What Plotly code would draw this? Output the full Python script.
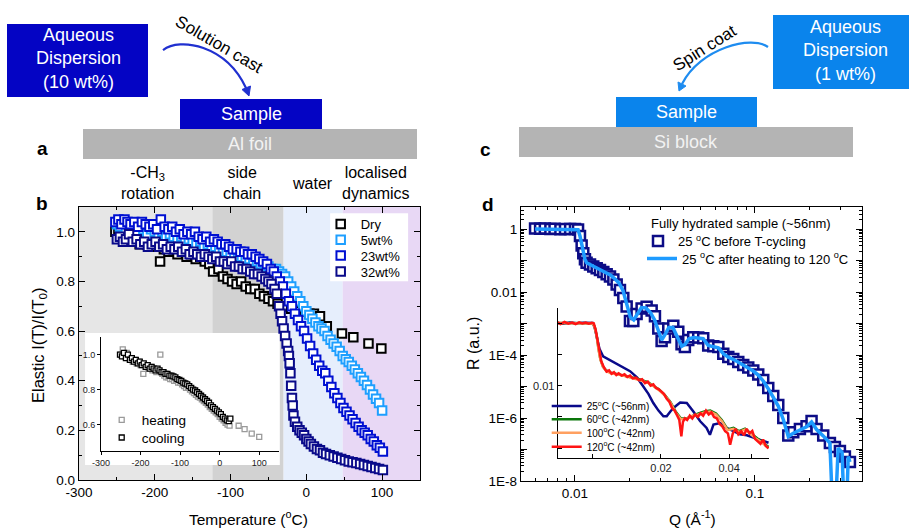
import plotly.graph_objects as go

# ---------------- panel b : elastic intensity vs temperature ----------------
dry_t = [-252, -248, -244, -240, -236, -232, -228, -224, -220, -215, -210, -205, -200, -193, -188,
         -182, -176, -170, -164, -158, -152, -146, -140, -134, -128, -123, -116, -110, -104, -98,
         -92, -86, -80, -74, -68, -62, -56, -50, -44, -38, -32, -26, -20, -14, -8,
         -2, 4, 10, 18, 27, 47, 62, 82, 99]
dry_v = [1.00, 0.99, 0.98, 0.99, 0.97, 0.98, 0.96, 0.97, 0.95, 0.96, 0.95, 0.94, 0.95, 0.88, 0.93,
         0.92, 0.93, 0.91, 0.92, 0.90, 0.91, 0.89, 0.90, 0.88, 0.87, 0.84, 0.85, 0.82, 0.81, 0.80,
         0.79, 0.80, 0.78, 0.77, 0.77, 0.75, 0.74, 0.73, 0.72, 0.71, 0.70, 0.70, 0.69, 0.69, 0.68,
         0.68, 0.67, 0.67, 0.66, 0.62, 0.59, 0.575, 0.55, 0.53]

w5_t = [-250, -246, -242, -238, -234, -230, -225, -220, -215, -210, -205, -200, -195, -190, -185,
        -180, -175, -170, -165, -160, -155, -150, -145, -140, -135, -130, -125, -120, -115, -110,
        -105, -100, -95, -90, -85, -80, -75, -70, -65, -60, -55, -50, -45, -40, -36,
        -32, -28, -24, -20, -16, -12, -8, -4, 0, 4, 8, 12, 16, 20, 24,
        28, 32, 36, 40, 44, 48, 52, 56, 60, 64, 68, 72, 76, 80, 84, 88, 92, 96, 100]
w5_v = [1.03, 1.02, 1.04, 1.01, 1.03, 1.02, 1.00, 1.02, 1.01, 0.99, 1.01, 1.00, 0.99, 1.00, 0.98,
        0.99, 0.98, 0.97, 0.98, 0.96, 0.97, 0.96, 0.95, 0.96, 0.94, 0.95, 0.93, 0.94, 0.93, 0.92,
        0.92, 0.91, 0.91, 0.90, 0.90, 0.89, 0.89, 0.88, 0.88, 0.87, 0.87, 0.86, 0.85, 0.85, 0.84,
        0.83, 0.82, 0.80, 0.78, 0.76, 0.74, 0.72, 0.70, 0.68, 0.665, 0.65, 0.635, 0.62, 0.61, 0.60,
        0.58, 0.565, 0.55, 0.537, 0.52, 0.50, 0.487, 0.475, 0.46, 0.445, 0.43, 0.415, 0.40, 0.383,
        0.365, 0.345, 0.327, 0.31, 0.28]

w23_t = [-252, -248, -244, -240, -236, -232, -227, -222, -217, -212, -207, -202, -197, -192, -187,
         -182, -177, -172, -167, -162, -157, -152, -147, -142, -137, -132, -127, -122, -117, -112,
         -107, -102, -97, -92, -87, -82, -77, -72, -67, -62, -57, -52, -47, -43, -39,
         -35, -31, -27, -23, -19, -15, -11, -7, -3, 1, 5, 9, 13, 17, 21,
         25, 29, 33, 37, 41, 45, 49, 53, 57, 61, 65, 69, 73, 77, 81, 85, 89, 93, 97, 101]
w23_v = [1.04, 1.05, 1.03, 1.05, 1.04, 1.03, 1.04, 1.02, 1.04, 1.03, 1.02, 1.03, 1.01, 1.05, 1.02,
         1.01, 1.02, 1.00, 1.01, 0.99, 1.00, 0.99, 1.00, 0.98, 0.97, 0.98, 0.96, 0.97, 0.96, 0.95,
         0.95, 0.94, 0.93, 0.93, 0.92, 0.92, 0.91, 0.91, 0.90, 0.89, 0.88, 0.87, 0.85, 0.84, 0.82,
         0.80, 0.78, 0.75, 0.72, 0.70, 0.67, 0.645, 0.62, 0.60, 0.57, 0.54, 0.51, 0.485, 0.46, 0.44,
         0.43, 0.40, 0.375, 0.35, 0.33, 0.31, 0.29, 0.275, 0.26, 0.245, 0.23, 0.215, 0.20, 0.19,
         0.18, 0.165, 0.155, 0.14, 0.13, 0.115]

w32_t = [-250, -246, -242, -238, -234, -229, -224, -219, -214, -209, -204, -199, -194, -189, -184,
         -179, -174, -169, -164, -159, -154, -149, -144, -139, -134, -129, -124, -119, -114, -109,
         -104, -99, -94, -89, -84, -79, -74, -69, -64, -59, -54, -50, -46, -42, -39,
         -36, -34, -32, -30, -28, -26, -24, -23, -22, -21, -20, -19, -18, -17, -15,
         -12, -9, -6, -3, 0, 3, 6, 10, 14, 18, 22, 26, 31, 36, 41,
         46, 51, 56, 61, 66, 71, 76, 81, 86, 91, 96, 101]
w32_v = [0.97, 0.98, 0.96, 0.97, 0.99, 0.96, 0.97, 0.95, 0.96, 0.94, 0.95, 0.96, 0.94, 0.95, 0.93,
         0.94, 0.93, 0.94, 0.92, 0.93, 0.91, 0.92, 0.91, 0.90, 0.91, 0.90, 0.89, 0.90, 0.88, 0.88,
         0.87, 0.88, 0.86, 0.86, 0.85, 0.85, 0.84, 0.83, 0.83, 0.82, 0.81, 0.80, 0.79, 0.77, 0.75,
         0.70, 0.67, 0.64, 0.61, 0.58, 0.55, 0.52, 0.50, 0.47, 0.43, 0.38, 0.33, 0.30, 0.26, 0.235,
         0.215, 0.20, 0.19, 0.18, 0.165, 0.155, 0.145, 0.135, 0.125, 0.12, 0.11, 0.105, 0.10, 0.095,
         0.09, 0.085, 0.08, 0.075, 0.072, 0.068, 0.064, 0.06, 0.056, 0.052, 0.048, 0.044, 0.04]

# inset of panel b (dry sample, heating / cooling)
heat_t = [-250, -245, -240, -235, -230, -225, -220, -215, -210, -205, -200, -193,
          -185, -180, -175, -170, -165, -160, -155, -150, -145, -140,
          -135, -130, -125, -120, -115, -110, -105, -100, -95, -90,
          -85, -80, -75, -70, -65, -60, -55, -50, -45, -40,
          -35, -30, -25, -20, -15, -10, -5, 0, 5, 10,
          15, 20, 25, 48, 63, 81, 100]
heat_v = [1.00, 1.03, 0.99, 1.01, 0.98, 0.97, 0.96, 0.97, 0.95, 0.96, 0.94, 0.89,
          0.93, 0.92, 0.93, 0.91, 0.92, 0.90, 0.91, 1.00, 0.89, 0.88,
          0.87, 0.87, 0.86, 0.86, 0.85, 0.85, 0.84, 0.84, 0.83, 0.82,
          0.81, 0.81, 0.80, 0.79, 0.78, 0.77, 0.76, 0.755, 0.745, 0.735,
          0.725, 0.715, 0.70, 0.69, 0.68, 0.67, 0.66, 0.645, 0.635, 0.625,
          0.61, 0.60, 0.595, 0.594, 0.575, 0.549, 0.53]
cool_t = [-252, -247, -242, -237, -232, -227, -222, -217, -212, -207,
          -202, -197, -192, -187, -182, -177, -172, -167, -162, -157,
          -152, -147, -142, -137, -132, -127, -122, -117, -112, -107,
          -102, -97, -92, -87, -82, -77, -72, -67, -62, -57,
          -52, -47, -42, -37, -32, -27, -22, -17, -12, -7,
          -2, 3, 8, 13, 18, 23, 27]
cool_v = [1.00, 0.99, 1.01, 0.98, 1.00, 0.97, 0.98, 0.96, 0.97, 0.95,
          0.96, 0.94, 0.95, 0.93, 0.94, 0.92, 0.93, 0.92, 0.91, 0.92,
          0.91, 0.90, 0.90, 0.89, 0.89, 0.88, 0.88, 0.875, 0.87, 0.86,
          0.855, 0.85, 0.84, 0.835, 0.83, 0.82, 0.81, 0.80, 0.795, 0.785,
          0.775, 0.765, 0.755, 0.745, 0.735, 0.725, 0.71, 0.70, 0.69, 0.68,
          0.67, 0.66, 0.645, 0.635, 0.625, 0.62, 0.635]

temp_ticks = [-300, -200, -100, 0, 100]
temp_labels = ["-300", "-200", "-100", "0", "100"]

# ---------------- panel d : reflectivity ----------------
before_q = [0.0060, 0.0064, 0.0068, 0.0073, 0.0077, 0.0083, 0.0088, 0.0094, 0.0100, 0.0104,
            0.01066, 0.01089, 0.01112, 0.01136, 0.0116, 0.01212, 0.01264, 0.0132, 0.01377, 0.01437,
            0.0150, 0.01565, 0.01634, 0.01705, 0.01778, 0.01856, 0.01937, 0.02021, 0.0211, 0.0220,
            0.02346, 0.02501, 0.02667, 0.02782, 0.02904, 0.0303, 0.03162, 0.0330, 0.03518, 0.0375,
            0.0391, 0.0408, 0.0426, 0.0454, 0.0484, 0.0516, 0.0550, 0.0587, 0.0626, 0.0667,
            0.0711, 0.0758, 0.0808, 0.0861, 0.0918, 0.0979, 0.1043, 0.1112, 0.1186, 0.1264,
            0.1348, 0.1437, 0.1532, 0.1633, 0.1778, 0.1936, 0.2064, 0.2201, 0.2396, 0.2610,
            0.2783, 0.2967, 0.3162, 0.3372]
before_r = [1.05, 1.02, 1.04, 1.0, 1.02, 0.99, 1.01, 1.0, 1.0, 0.97,
            0.6, 0.3, 0.17, 0.11, 0.085, 0.075, 0.065, 0.057, 0.05, 0.043,
            0.037, 0.031, 0.025, 0.0175, 0.0115, 0.0065, 0.0035, 0.0012, 0.0012, 0.002,
            0.003, 0.0034, 0.0026, 0.0017, 7e-4, 2.8e-4, 3.7e-4, 6.9e-4, 8.5e-4, 5.5e-4,
            2.2e-4, 1.8e-4, 3.0e-4, 3.7e-4, 3.6e-4, 3.4e-4, 2.0e-4, 1.9e-4, 1.8e-4, 1.1e-4,
            8.6e-5, 7.5e-5, 6e-5, 4.8e-5, 4e-5, 3.2e-5, 2.4e-5, 1.6e-5, 9e-6, 5e-6,
            2.6e-6, 1.0e-6, 2.8e-7, 3.5e-7, 4.5e-7, 5.5e-7, 8e-7, 4.5e-7, 2.8e-7, 1.6e-7,
            1.2e-7, 9e-8, 6e-8, 4e-8]

after_q = [0.0060, 0.0066, 0.0072, 0.0079, 0.0086, 0.0093, 0.0100, 0.0104, 0.01066, 0.01089,
           0.01112, 0.01136, 0.0116, 0.0123, 0.0131, 0.0140, 0.0149, 0.0158, 0.0167, 0.0176,
           0.0185, 0.0194, 0.0203, 0.0212, 0.0222, 0.0234, 0.0248, 0.0263, 0.0277, 0.0290,
           0.0303, 0.0317, 0.0332, 0.0350, 0.0372, 0.0392, 0.0410, 0.0430, 0.0456, 0.0486,
           0.0516, 0.0550, 0.0587, 0.0626, 0.0667, 0.0711, 0.0758, 0.0808, 0.0861, 0.0918,
           0.0979, 0.1043, 0.1112, 0.1186, 0.1264, 0.1348, 0.1437, 0.1532, 0.1633, 0.1778,
           0.1936, 0.2064, 0.2201, 0.2396, 0.2610, 0.2750, 0.2900, 0.3050, 0.3180, 0.3300, 0.3372]
after_r = [1.0, 1.0, 1.0, 0.99, 1.0, 1.0, 0.99, 0.95, 0.6, 0.3,
           0.17, 0.11, 0.085, 0.072, 0.06, 0.05, 0.042, 0.034, 0.026, 0.019,
           0.011, 0.0045, 0.0016, 0.0013, 0.0021, 0.0032, 0.0031, 0.0022, 0.0013, 6e-4,
           3e-4, 4.5e-4, 7.5e-4, 7.5e-4, 3.5e-4, 1.9e-4, 2.2e-4, 3.3e-4, 3.6e-4, 3.5e-4,
           3.3e-4, 2.0e-4, 1.9e-4, 1.7e-4, 1.1e-4, 8.6e-5, 7.3e-5, 6e-5, 4.7e-5, 4e-5,
           3.1e-5, 2.3e-5, 1.5e-5, 8.5e-6, 4.8e-6, 2.4e-6, 9e-7, 2.6e-7, 3.3e-7, 4.3e-7,
           5.3e-7, 7.5e-7, 4.3e-7, 2.7e-7, 1.6e-7, 1e-10, 1.1e-7, 8e-8, 1e-10, 6e-8, 4e-8]

# inset of panel d
c25_q = [0.0070, 0.0074, 0.0079, 0.0085, 0.0091, 0.0097, 0.0100, 0.0102, 0.0104, 0.0107,
         0.0111, 0.0117, 0.0123, 0.0132, 0.0146, 0.0157, 0.0167, 0.0176, 0.0185, 0.0195,
         0.0205, 0.0212, 0.0220, 0.0227, 0.0243, 0.0260, 0.0278, 0.0298, 0.0318, 0.0329,
         0.0341, 0.0365, 0.0390, 0.0418, 0.0447, 0.0479, 0.0512, 0.0548, 0.0577, 0.0597]
c25_r = [1.0, 0.95, 1.03, 0.98, 1.02, 0.99, 1.0, 0.7, 0.37, 0.15,
         0.087, 0.07, 0.06, 0.045, 0.029, 0.018, 0.0095, 0.0055, 0.0028, 0.0016,
         0.00105, 0.00105, 0.0015, 0.00194, 0.0029, 0.0028, 0.0015, 0.00073, 0.00045, 0.00027,
         0.00057, 0.00064, 0.00045, 0.00035, 0.00028, 0.00026, 0.00022, 0.00019, 0.00017, 0.00015]

c60_q = [0.0070, 0.0075, 0.0080, 0.0085, 0.0090, 0.0095, 0.0100, 0.0102, 0.0104, 0.0106,
         0.0108, 0.0111, 0.0115, 0.0120, 0.0126, 0.0133, 0.0140, 0.0148, 0.0156, 0.0165,
         0.0175, 0.0185, 0.0196, 0.0208, 0.0220, 0.0232, 0.0245, 0.0260, 0.0276, 0.0293,
         0.0311, 0.0330, 0.0350, 0.0371, 0.0394, 0.0418, 0.0443, 0.0470, 0.0498, 0.0528,
         0.0560, 0.0597]
c60_r = [1.0, 1.0, 0.99, 1.01, 1.0, 0.99, 0.98, 0.75, 0.4, 0.15,
         0.07, 0.04, 0.03, 0.026, 0.024, 0.023, 0.021, 0.019, 0.017, 0.015,
         0.013, 0.01, 0.0075, 0.005, 0.003, 0.0015, 0.0009, 0.0009, 0.0011, 0.0013,
         0.0015, 0.0016, 0.0013, 0.0008, 0.0004, 0.00045, 0.00035, 0.00042, 0.0003, 0.00022,
         0.00016, 0.00011]
c100_q = c60_q
c100_r = [1.0, 0.99, 1.0, 1.0, 0.99, 1.0, 0.97, 0.72, 0.38, 0.14,
          0.068, 0.04, 0.029, 0.025, 0.024, 0.022, 0.02, 0.018, 0.016, 0.014,
          0.0125, 0.0098, 0.0072, 0.0048, 0.0029, 0.0014, 0.00085, 0.00088, 0.0011, 0.0012,
          0.0014, 0.0015, 0.0012, 0.00075, 0.00038, 0.00042, 0.00033, 0.0004, 0.00028, 0.0002,
          0.00015, 0.0001]

c120_q = [0.0070, 0.0072, 0.0075, 0.0078, 0.0081, 0.0084, 0.0087, 0.0090, 0.0093, 0.0096,
          0.0099, 0.0101, 0.0103, 0.0105, 0.0107, 0.0109, 0.0112, 0.0115, 0.0118, 0.0121,
          0.0124, 0.0127, 0.0130, 0.0134, 0.0138, 0.0142, 0.0146, 0.0150, 0.0155, 0.0160,
          0.0165, 0.0170, 0.0175, 0.0180, 0.0185, 0.0190, 0.0195, 0.0200, 0.0206, 0.0212,
          0.0218, 0.0224, 0.0230, 0.0236, 0.0241, 0.0246, 0.0250, 0.0255, 0.0261, 0.0268,
          0.0275, 0.0283, 0.0291, 0.0299, 0.0307, 0.0316, 0.0325, 0.0334, 0.0343, 0.0353,
          0.0363, 0.0373, 0.0384, 0.0395, 0.0404, 0.0415, 0.0427, 0.0439, 0.0452, 0.0465,
          0.0478, 0.0492, 0.0506, 0.0520, 0.0535, 0.0550, 0.0565, 0.0580, 0.0597]
c120_r = [1.05, 0.92, 1.08, 0.96, 1.04, 0.93, 1.06, 0.97, 1.03, 0.95,
          1.02, 0.98, 0.6, 0.28, 0.12, 0.06, 0.038, 0.028, 0.031, 0.024,
          0.027, 0.022, 0.025, 0.021, 0.023, 0.019, 0.021, 0.017, 0.018, 0.015,
          0.016, 0.012, 0.0135, 0.010, 0.011, 0.0085, 0.0078, 0.0065, 0.0055, 0.0038,
          0.0030, 0.0019, 0.0016, 0.0011, 0.0008, 0.00024, 0.0007, 0.0009, 0.0008, 0.0011,
          0.0009, 0.0012, 0.0010, 0.0013, 0.0011, 0.0016, 0.0012, 0.0014, 0.0010, 0.0009,
          0.0006, 0.0005, 0.00035, 0.0003, 0.00013, 0.0003, 0.00042, 0.00028, 0.00035, 0.00026,
          0.00042, 0.0003, 0.00036, 0.0002, 0.00017, 0.00014, 0.00019, 0.00012, 0.0001]

# ---------------- helpers for layout positions (pixels -> paper) ----------------
W, H = 909, 528
def px(x):
    return x / W
def py(y):
    return 1 - y / H

FONT = "Liberation Sans, Arial, sans-serif"
C_DRY, C_5, C_23, C_32 = "#000000", "#1E9FFF", "#0010D2", "#0A0A8A"
BOX_A, BOX_C, GREY = "#0404C4", "#0A84EC", "#B4B4B4"

fig = go.Figure()

def sq(name, x, y, color, legend, size=8.5, lw=2.0, xa="x", ya="y"):
    fig.add_trace(go.Scatter(x=x, y=y, mode="markers", name=name, legend=legend,
                             xaxis=xa, yaxis=ya,
                             marker=dict(symbol="square", size=size, color="white",
                                         line=dict(color=color, width=lw))))

sq("Dry", dry_t, dry_v, C_DRY, "legend")
sq("5wt%", w5_t, w5_v, C_5, "legend2")
sq("23wt%", w23_t, w23_v, C_23, "legend3")
sq("32wt%", w32_t, w32_v, C_32, "legend4")
sq("heating", heat_t, heat_v, "#9A9A9A", "legend5", size=5, lw=1.3, xa="x2", ya="y2")
sq("cooling", cool_t, cool_v, "#000000", "legend6", size=5, lw=1.3, xa="x2", ya="y2")
sq("25 <sup>o</sup>C before T-cycling", before_q, before_r, "#0C0C86", "legend7", size=10, lw=2.5,
   xa="x3", ya="y3")
fig.add_trace(go.Scatter(x=after_q, y=after_r, mode="lines", legend="legend8",
                         name="25 <sup>o</sup>C after heating to 120 <sup>o</sup>C",
                         xaxis="x3", yaxis="y3", line=dict(color="#1E9BFF", width=3.5)))
for q, r, col, nm, lg in [(c25_q, c25_r, "#0A0A8A", "25<sup>o</sup>C (~56nm)", "legend9"),
                          (c60_q, c60_r, "#0A760A", "60<sup>o</sup>C (~42nm)", "legend10"),
                          (c100_q, c100_r, "#FFA060", "100<sup>o</sup>C (~42nm)", "legend11"),
                          (c120_q, c120_r, "#FF1414", "120<sup>o</sup>C (~42nm)", "legend12")]:
    fig.add_trace(go.Scatter(x=q, y=r, mode="lines", name=nm, legend=lg, xaxis="x4", yaxis="y4",
                             line=dict(color=col, width=2.5)))

# ---------------- axes ----------------
def ax(**kw):
    d = dict(showgrid=False, zeroline=False, showline=True, linecolor="black", linewidth=1.3,
             tickcolor="black", automargin=False,
             tickfont=dict(family=FONT, size=13.5, color="black"))
    d.update(kw)
    return d

minor_in = dict(ticks="inside", ticklen=3, tickcolor="black")
layout_axes = dict(
    xaxis=ax(domain=[px(79), px(420)], anchor="y", range=[-300, 150],
             tickvals=temp_ticks, ticktext=temp_labels,
             ticks="inside", ticklen=6, mirror="allticks",
             minor=dict(dtick=50, tick0=0, **minor_in)),
    yaxis=ax(domain=[py(480), py(207)], anchor="x", range=[0, 1.1], tick0=0, dtick=0.2,
             tickformat=".1f", ticks="inside", ticklen=6, mirror="allticks",
             minor=dict(dtick=0.1, tick0=0, **minor_in)),
    xaxis2=ax(domain=[px(101), px(279)], anchor="y2", range=[-300, 150],
              tickvals=temp_ticks, ticktext=temp_labels,
              ticks="outside", ticklen=3, linewidth=1, tickfont=dict(family=FONT, size=9, color="#222")),
    yaxis2=ax(domain=[py(451), py(337)], anchor="x2", range=[0.45, 1.1], tickvals=[0.6, 0.8, 1.0],
              tickformat=".1f", ticks="outside", ticklen=3, linewidth=1,
              tickfont=dict(family=FONT, size=9, color="#222")),
    xaxis3=ax(domain=[px(521), px(862)], anchor="y3", type="log", range=[-2.3, -0.405],
              tickvals=[0.01, 0.1], ticktext=["0.01", "0.1"], ticks="inside", ticklen=6,
              mirror="allticks", minor=dict(dtick="D1", **minor_in)),
    yaxis3=ax(domain=[py(481), py(207)], anchor="x3", type="log", range=[-8, 0.7],
              tickvals=[1, 0.1, 0.01, 1e-3, 1e-4, 1e-5, 1e-6, 1e-7, 1e-8],
              ticktext=["1", "", "0.01", "", "1E-4", "", "1E-6", "", "1E-8"],
              ticks="inside", ticklen=6, mirror="allticks", minor=dict(dtick="D1", **minor_in)),
    xaxis4=ax(domain=[px(557.7), px(769)], anchor="y4", type="log", range=[-2.155, -1.222],
              tickvals=[0.01, 0.02, 0.03, 0.04, 0.05, 0.06],
              ticktext=["", "0.02", "", "0.04", "", "0.06"], ticks="inside", ticklen=4, linewidth=1.2,
              tickfont=dict(family=FONT, size=11, color="#222")),
    yaxis4=ax(domain=[py(457.7), py(308)], anchor="x4", type="log", range=[-4.3, 0.48],
              tickvals=[1, 0.1, 0.01, 1e-3, 1e-4], ticktext=["", "", "0.01", "", ""],
              ticks="inside", ticklen=4, linewidth=1.2,
              tickfont=dict(family=FONT, size=11, color="#222")),
)

# ---------------- legends (one entry each, positioned per row) ----------------
def leg(x, y, size):
    return dict(x=px(x), y=py(y), xanchor="left", yanchor="middle", bgcolor="rgba(0,0,0,0)",
                borderwidth=0, font=dict(family=FONT, size=size, color="black"),
                itemsizing="trace", tracegroupgap=0)

legends = dict(
    legend=leg(320.7, 224, 13), legend2=leg(320.7, 239.7, 13),
    legend3=leg(320.7, 255.6, 13), legend4=leg(320.7, 271.5, 13),
    legend5=leg(101.7, 420, 13.5), legend6=leg(101.7, 437.7, 13.5),
    legend7=leg(638, 241, 13), legend8=leg(642, 258.5, 13),
    legend9=leg(546.7, 406, 10), legend10=leg(546.7, 419.3, 10),
    legend11=leg(546.7, 432.7, 10), legend12=leg(546.7, 446.7, 10),
)

# ---------------- shapes ----------------
def prect(x0, y0, x1, y1, color):
    return dict(type="rect", xref="paper", yref="paper", x0=px(x0), x1=px(x1), y0=py(y1), y1=py(y0),
                fillcolor=color, line=dict(width=0), layer="above")

shapes = [
    dict(type="rect", xref="x", yref="y", x0=-300, x1=-124, y0=0, y1=1.1, fillcolor="#E6E6E6",
         line=dict(width=0), layer="below"),
    dict(type="rect", xref="x", yref="y", x0=-124, x1=-30, y0=0, y1=1.1, fillcolor="#D2D2D2",
         line=dict(width=0), layer="below"),
    dict(type="rect", xref="x", yref="y", x0=-30, x1=48, y0=0, y1=1.1, fillcolor="#E6EEFC",
         line=dict(width=0), layer="below"),
    dict(type="rect", xref="x", yref="y", x0=48, x1=150, y0=0, y1=1.1, fillcolor="#E8D8F5",
         line=dict(width=0), layer="below"),
    dict(type="rect", xref="x", yref="y", x0=-292, x1=-35, y0=0.06, y1=0.592, fillcolor="white",
         line=dict(width=0), layer="below"),
    dict(type="rect", xref="x", yref="y", x0=31.4, x1=134.3, y0=0.801, y1=1.075, fillcolor="white",
         line=dict(width=0), layer="below"),
    prect(7, 24, 148, 97, BOX_A), prect(180, 99, 322, 129, BOX_A), prect(83, 129, 417, 159, GREY),
    prect(773, 15, 909, 89, BOX_C), prect(616, 97, 757, 127, BOX_C), prect(519, 127, 853, 157, GREY),
]

def P(x, y):
    return f"{px(x):.5f},{py(y):.5f}"

shapes += [
    dict(type="path", xref="paper", yref="paper",
         path=f"M {P(163, 50)} C {P(180, 37)} {P(226, 45)} {P(246, 88)}",
         line=dict(color="#2030D0", width=2.2)),
    dict(type="path", xref="paper", yref="paper",
         path=f"M {P(249, 96)} L {P(250.5, 86)} L {P(242, 89.5)} Z",
         fillcolor="#2030D0", line=dict(color="#2030D0", width=1)),
    dict(type="path", xref="paper", yref="paper",
         path=f"M {P(768, 47)} C {P(752, 35)} {P(700, 48)} {P(682, 84)}",
         line=dict(color="#1E8CF0", width=2.2)),
    dict(type="path", xref="paper", yref="paper",
         path=f"M {P(679, 91)} L {P(686, 86)} L {P(678, 82)} Z",
         fillcolor="#1E8CF0", line=dict(color="#1E8CF0", width=1)),
]

# ---------------- annotations ----------------
def txt(x, y, text, size, color="black", angle=0, bold=False, xanchor="center"):
    if bold:
        text = f"<b>{text}</b>"
    return dict(x=px(x), y=py(y), xref="paper", yref="paper", text=text, showarrow=False,
                xanchor=xanchor, yanchor="middle", textangle=angle,
                font=dict(family=FONT, size=size, color=color))

annotations = [
    txt(78, 59, "Aqueous<br>Dispersion<br>(10 wt%)", 18, "white"),
    txt(251, 114, "Sample", 18, "white"),
    txt(250, 144, "Al foil", 18, "#F2F2F2"),
    txt(219, 45, "Solution cast", 17, angle=30),
    txt(42, 148, "a", 19, bold=True),
    txt(845, 51, "Aqueous<br>Dispersion<br>(1 wt%)", 18, "white"),
    txt(686, 112, "Sample", 18, "white"),
    txt(686, 142, "Si block", 18, "#F2F2F2"),
    txt(704, 48, "Spin coat", 17, angle=-32),
    txt(485, 149, "c", 19, bold=True),
    txt(147, 183, "-CH<sub>3</sub><br>rotation", 16),
    txt(242, 183, "side<br>chain", 16),
    txt(312, 183, "water", 16),
    txt(376, 183, "localised<br>dynamics", 16),
    txt(42, 203, "b", 19, bold=True),
    txt(488, 204, "d", 19, bold=True),
    txt(39, 345, "Elastic I(T)/I(T<sub>0</sub>)", 16.5, angle=-90),
    txt(249, 518, "Temperature (<sup>o</sup>C)", 15.5),
    txt(473, 344, "R (a.u.)", 16, angle=-90),
    txt(692, 518, "Q (Å<sup>-1</sup>)", 15.5),
    txt(649, 223, "Fully hydrated sample (~56nm)", 13, xanchor="left"),
]

fig.update_layout(
    width=W, height=H, autosize=False,
    margin=dict(l=0, r=0, t=0, b=0, pad=0, autoexpand=False),
    paper_bgcolor="white", plot_bgcolor="rgba(0,0,0,0)", showlegend=True,
    font=dict(family=FONT, size=13, color="black"),
    shapes=shapes, annotations=annotations, **layout_axes, **legends,
)

# the page's default 8px body margin would offset the 909x528 figure inside the window
fig.write_html("out.html", config={"displayModeBar": False},
               post_script="document.body.style.margin='0px';")
